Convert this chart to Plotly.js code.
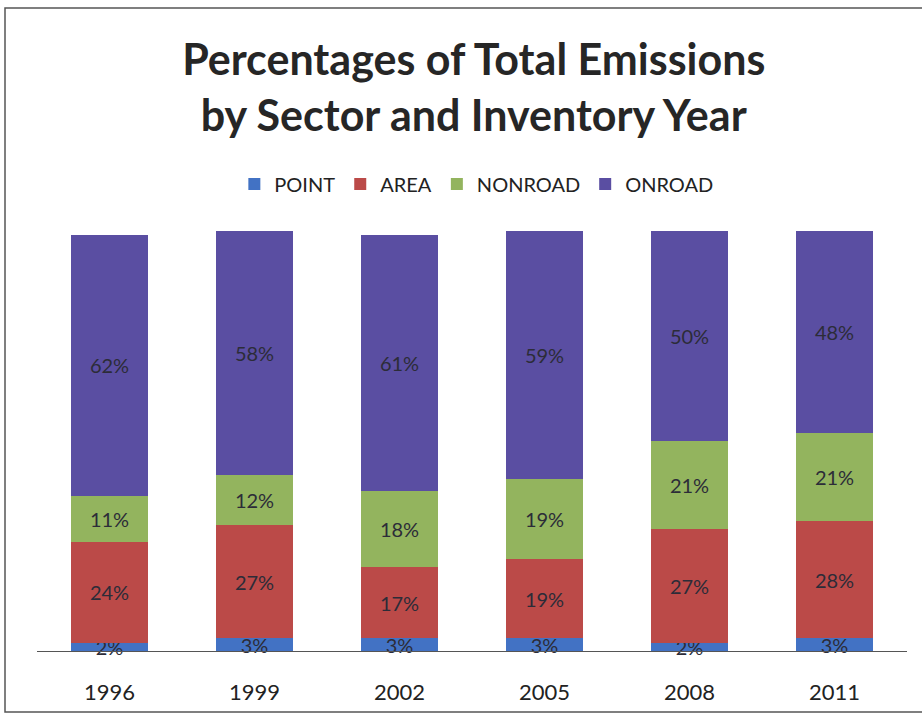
<!DOCTYPE html>
<html>
<head>
<meta charset="utf-8">
<script src="https://cdn.plot.ly/plotly-3.0.1.min.js"></script>
<style>
  html, body { margin: 0; padding: 0; background: #ffffff; }
  #chart { width: 922px; height: 715px; }
</style>
</head>
<body>
<div id="chart"></div>
<script>
const years = ["1996", "1999", "2002", "2005", "2008", "2011"];
const pointVals   = [2, 3, 3, 3, 2, 3];
const areaVals    = [24, 27, 17, 19, 27, 28];
const nonroadVals = [11, 12, 18, 19, 21, 21];
const onroadVals  = [62, 58, 61, 59, 50, 48];

const seriesNames  = ["POINT", "AREA", "NONROAD", "ONROAD"];
const seriesValues = [pointVals, areaVals, nonroadVals, onroadVals];
const seriesColors = ["#4272c4", "#bb4a48", "#93b45e", "#5a4ea2"];

const FONT = "Lato, 'Open Sans', sans-serif";

const traces = seriesNames.map((name, i) => ({
  type: "bar",
  name: name,
  x: years,
  y: seriesValues[i],
  marker: { color: seriesColors[i], line: { width: 0 } },
  text: seriesValues[i].map(v => v + "%"),
  textposition: "inside",
  insidetextanchor: "middle",
  textangle: 0,
  constraintext: "none",
  cliponaxis: false,
  insidetextfont: { family: FONT, size: 20, color: "#2c2c38" },
  hoverinfo: "skip"
}));

const plotL = 37, plotR = 907, plotT = 231, plotB = 651;
const W = 922, H = 715;
const px2x = p => (p - plotL) / (plotR - plotL);
const px2y = p => (plotB - p) / (plotB - plotT);

const layout = {
  width: W,
  height: H,
  paper_bgcolor: "#ffffff",
  plot_bgcolor: "rgba(0,0,0,0)",
  barmode: "stack",
  bargap: 0.47,
  margin: { l: plotL, r: W - plotR, t: plotT, b: H - plotB, pad: 0 },
  font: { family: FONT, color: "#222222" },
  title: {
    text: "<b>Percentages of Total Emissions<br>by Sector and Inventory Year</b>",
    font: { family: FONT, size: 43, color: "#262626" },
    x: 0.502,
    xanchor: "center",
    xref: "paper",
    y: 1 - 75 / H,
    yanchor: "top",
    yref: "container"
  },
  showlegend: true,
  legend: {
    orientation: "h",
    traceorder: "normal",
    x: 0.505,
    xanchor: "center",
    y: px2y(184),
    yanchor: "middle",
    font: { family: FONT, size: 20, color: "#222222" },
    itemwidth: 30,
    bgcolor: "rgba(0,0,0,0)"
  },
  xaxis: {
    type: "category",
    showline: true,
    linecolor: "#555555",
    linewidth: 1,
    ticks: "",
    ticklabelstandoff: 22,
    tickfont: { family: FONT, size: 22, color: "#222222" },
    showgrid: false,
    zeroline: false,
    fixedrange: true
  },
  yaxis: {
    range: [0, 100],
    visible: false,
    showgrid: false,
    zeroline: false,
    fixedrange: true
  },
  shapes: [
    {
      type: "rect",
      xref: "paper", yref: "paper",
      x0: px2x(5), x1: px2x(926),
      y0: px2y(712), y1: px2y(8),
      line: { color: "#555555", width: 1.5 },
      fillcolor: "rgba(0,0,0,0)",
      layer: "below"
    }
  ]
};

Plotly.newPlot("chart", traces, layout, { displayModeBar: false, staticPlot: true });
</script>
</body>
</html>
